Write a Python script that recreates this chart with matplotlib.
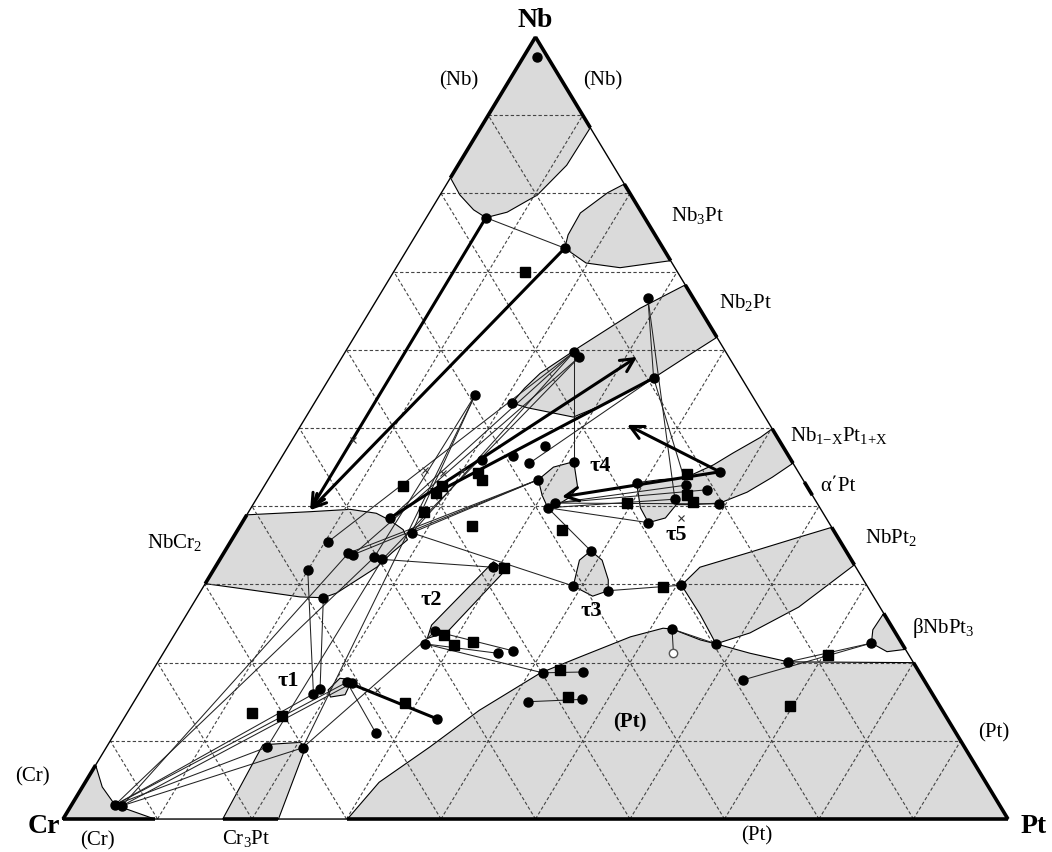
import numpy as np
import matplotlib.pyplot as plt

plt.rcParams['font.family'] = ['Liberation Serif', 'DejaVu Serif']
plt.rcParams['mathtext.fontset'] = 'custom'
plt.rcParams['mathtext.rm'] = 'Liberation Serif'
plt.rcParams['mathtext.it'] = 'Liberation Serif:italic'
plt.rcParams['mathtext.bf'] = 'Liberation Serif:bold'

H = np.sqrt(3) / 2

# all compositions are (at.% Nb, at.% Pt), Cr = balance

# single phase fields
nb_ss = [(100, 0), (82.0, 0), (79.8, 2.1), (77.9, 4.5), (76.9, 6.3), (77.6, 8.2),
         (79.8, 10.3), (83.6, 11.5), (88.4, 11.6)]
nb3pt = [(81.2, 18.8), (80.1, 17.6), (77.5, 16.0), (74.7, 16.1), (73.0, 16.6),
         (71.1, 19.8), (70.5, 23.7), (71.4, 28.6)]
nb2pt = [(68.3, 31.7), (65.3, 28.4), (60.4, 24.5), (57.0, 22.0), (55.1, 21.3),
         (53.2, 20.9), (52.6, 22.8), (51.4, 28.3), (53.2, 31.0), (56.4, 34.3),
         (59.1, 36.4), (61.6, 38.4)]
nb1xpt1x = [(49.9, 50.1), (48.8, 49.4), (46.8, 47.5), (45.3, 46.2), (43.6, 44.0),
            (43.4, 41.5), (43.0, 39.2), (39.8, 41.2), (37.9, 43.0), (38.5, 44.5),
            (40.2, 44.8), (40.2, 46.2), (40.4, 49.3), (41.8, 51.5), (43.7, 53.2),
            (45.5, 54.5)]
nbpt2 = [(37.3, 62.7), (36.1, 60.0), (34.1, 55.6), (32.2, 51.3), (29.9, 50.5),
         (26.1, 54.4), (22.4, 57.9), (23.8, 60.8), (27.1, 64.3), (32.5, 67.5)]
bnbpt3 = [(26.3, 73.7), (24.2, 73.6), (22.5, 74.3), (21.4, 76.5), (21.7, 78.3)]
pt_ss = [(0, 30.1), (4.7, 31.1), (9.2, 34.2), (13.9, 37.1), (18.7, 41.2), (20.7, 44.3),
         (23.3, 48.4), (24.4, 51.3), (24.3, 52.3), (22.9, 56.0), (22.4, 57.9),
         (21.2, 62.1), (20.1, 66.7), (20.0, 80.0), (0, 100)]
nbcr2 = [(38.9, 0), (39.3, 6.5), (39.6, 10.6), (39.1, 13.6), (38.2, 15.5), (37.0, 17.5),
         (35.7, 18.6), (34.1, 17.8), (32.2, 17.1), (30.8, 16.0), (28.9, 14.5),
         (28.3, 13.4), (28.4, 10.9), (29.3, 5.2), (30.1, 0)]
cr_ss = [(0, 0), (6.9, 0), (4.1, 2.1), (1.8, 4.6), (0, 9.7)]
cr3pt = [(0, 16.9), (9.5, 16.4), (9.8, 20.2), (9.1, 21.1), (0, 22.8)]
tau1 = [(16.5, 19.8), (18.0, 20.3), (17.8, 21.7), (15.9, 21.9), (15.6, 20.5)]
tau2 = [(23.1, 27.0), (24.8, 26.6), (32.9, 29.1), (31.8, 30.9), (23.9, 28.7)]
tau3 = [(29.8, 39.1), (33.1, 38.1), (34.3, 38.7), (33.1, 40.5), (30.6, 42.4),
        (29.2, 43.1), (28.5, 41.8)]
tau4 = [(43.4, 28.6), (45.0, 29.4), (45.7, 31.2), (42.5, 33.2), (41.2, 33.1),
        (40.0, 32.1), (39.8, 31.4), (41.4, 30.0)]

# solid-solution ranges marked on the binary edges
edge_cr_nb = [(0, 6.9), (30.1, 38.9), (82.0, 100)]           # Nb range, Pt = 0
edge_nb_pt = [(88.4, 100), (71.4, 81.2), (61.6, 68.3), (45.5, 49.9),
              (41.4, 43.1), (32.5, 37.3), (21.7, 26.3), (0, 20.0)]  # Nb range, Cr = 0
edge_cr_pt = [(0, 9.7), (16.9, 22.8), (30.1, 100)]           # Pt range, Nb = 0

# measured phase compositions
circles = [(97.4, 1.5), (76.9, 6.3), (73.0, 16.6), (66.6, 28.6), (59.7, 24.2), (59.1, 25.1),
           (56.4, 34.3), (54.2, 16.5), (53.2, 20.9), (47.7, 27.2), (46.4, 24.4), (45.5, 26.6),
           (45.9, 21.4), (45.7, 31.2), (43.4, 28.6), (40.4, 31.9), (39.8, 31.4), (43.0, 39.2),
           (40.9, 44.3), (42.7, 44.6), (42.1, 47.1), (44.4, 47.3), (40.3, 49.3), (37.9, 43.0),
           (34.3, 38.7), (29.8, 39.1), (29.2, 43.1), (29.9, 50.5), (32.2, 29.4), (38.5, 15.4),
           (36.6, 18.6), (33.5, 16.2), (33.2, 17.2), (35.4, 10.3), (34.0, 13.2), (33.8, 13.8),
           (31.8, 10.0), (28.3, 13.4), (16.0, 18.5), (16.6, 18.9), (17.5, 21.3), (17.4, 21.9),
           (12.8, 33.2), (11.0, 27.6), (9.2, 17.0), (9.1, 20.8), (1.8, 4.6), (1.7, 5.4),
           (22.4, 27.1), (24.0, 27.4), (21.2, 35.4), (21.5, 36.9), (18.7, 41.4), (18.8, 45.6),
           (15.0, 41.7), (15.3, 47.3), (24.3, 52.3), (22.4, 57.9), (20.1, 66.7), (17.8, 63.1),
           (22.5, 74.3)]
squares = [(69.9, 13.9), (42.6, 14.7), (42.6, 18.8), (41.7, 18.6), (44.2, 21.8), (43.4, 22.6),
           (39.3, 18.5), (37.5, 24.5), (37.0, 34.3), (40.4, 39.5), (44.1, 44.0), (41.4, 45.3),
           (40.5, 46.4), (32.1, 30.6), (29.7, 48.6), (13.6, 13.2), (13.2, 16.6), (14.8, 28.8),
           (23.5, 28.6), (22.3, 30.2), (22.6, 32.1), (19.1, 43.0), (15.6, 45.6), (21.0, 70.5),
           (14.5, 69.7)]
crosses = [(48.5, 6.4), (44.6, 16.0), (44.2, 18.1), (44.5, 20.0), (16.5, 25.0), (38.5, 46.1)]
open_circles = [(21.2, 54.0)]

tie_lines = [
    ((76.9, 6.3), (73.0, 16.6)), ((66.6, 28.6), (56.4, 34.3)), ((66.6, 28.6), (40.9, 44.3)),
    ((56.4, 34.3), (42.7, 44.6)), ((59.7, 24.2), (45.7, 31.2)), ((59.7, 24.2), (38.5, 15.4)),
    ((59.7, 24.2), (36.6, 18.6)), ((59.1, 25.1), (33.2, 17.2)), ((59.1, 25.1), (33.8, 13.8)),
    ((59.7, 24.2), (35.4, 10.3)), ((54.2, 16.5), (36.6, 18.6)), ((54.2, 16.5), (33.5, 16.2)),
    ((54.2, 16.5), (9.1, 20.8)), ((43.4, 28.6), (36.6, 18.6)), ((43.4, 28.6), (33.8, 13.8)),
    ((43.4, 28.6), (34.0, 13.2)), ((45.5, 26.6), (56.4, 34.3)),
    ((39.8, 31.4), (37.9, 43.0)), ((39.8, 31.4), (40.9, 44.3)), ((40.4, 31.9), (40.3, 49.3)),
    ((40.4, 31.9), (42.1, 47.1)), ((40.4, 31.9), (42.7, 44.6)), ((39.8, 31.4), (34.3, 38.7)),
    ((36.6, 18.6), (29.8, 39.1)), ((33.2, 17.2), (32.2, 29.4)), ((29.2, 43.1), (29.9, 50.5)),
    ((24.3, 52.3), (22.4, 57.9)), ((24.3, 52.3), (21.2, 54.0)), ((17.8, 63.1), (22.5, 74.3)),
    ((20.1, 66.7), (22.5, 74.3)), ((31.8, 10.0), (16.0, 18.5)), ((28.3, 13.4), (16.6, 18.9)),
    ((16.0, 18.5), (1.8, 4.6)), ((1.8, 4.6), (9.2, 17.0)), ((1.7, 5.4), (9.1, 20.8)),
    ((1.8, 4.6), (17.5, 21.3)), ((1.7, 5.4), (17.4, 21.9)), ((1.8, 4.6), (33.5, 16.2)),
    ((1.7, 5.4), (34.0, 13.2)), ((9.1, 20.8), (24.0, 27.4)), ((9.2, 17.0), (33.2, 17.2)),
    ((17.5, 21.3), (11.0, 27.6)), ((22.4, 27.1), (21.2, 35.4)), ((22.4, 27.1), (18.7, 41.4)),
    ((24.0, 27.4), (21.5, 36.9)), ((18.7, 41.4), (18.8, 45.6)), ((15.0, 41.7), (15.3, 47.3)),
]
thick_lines = [((41.7, 18.6), (56.4, 34.3)), ((17.5, 21.3), (12.8, 33.2))]
arrows = [((76.9, 6.3), (39.5, 6.4)), ((73.0, 16.6), (39.5, 6.4)), ((38.5, 15.4), (59.1, 31.2)),
          ((44.4, 47.3), (50.4, 34.5)), ((44.4, 47.3), (41.2, 32.2))]

labels = [("Nb", 0.4995, 0.8848, 20, 'bold'), ("Cr", -0.0201, -0.0078, 20, 'bold'),
          ("Pt", 1.0275, -0.0078, 20, 'bold'),
          ("(Nb)", 0.4190, 0.8173, 15, 'normal'), ("(Nb)", 0.5714, 0.8173, 15, 'normal'),
          (r"Nb$_3$Pt", 0.6709, 0.6689, 15, 'normal'), (r"Nb$_2$Pt", 0.7217, 0.5725, 15, 'normal'),
          (r"Nb$_{1\mathrm{-X}}$Pt$_{1\mathrm{+X}}$", 0.8212, 0.4252, 15, 'normal'),
          ("α΄Pt", 0.8201, 0.3677, 15, 'normal'), (r"NbPt$_2$", 0.8762, 0.3123, 15, 'normal'),
          (r"βNbPt$_3$", 0.9312, 0.2115, 15, 'normal'), ("(Pt)", 0.9852, 0.0952, 15, 'normal'),
          ("(Pt)", 0.7344, -0.0188, 15, 'normal'), ("(Pt)", 0.6000, 0.1074, 15, 'bold'),
          (r"NbCr$_2$", 0.1185, 0.3067, 15, 'normal'), ("(Cr)", -0.0328, 0.0465, 15, 'normal'),
          ("(Cr)", 0.0360, -0.0244, 15, 'normal'), (r"Cr$_3$Pt", 0.1937, -0.0210, 15, 'normal'),
          ("τ1", 0.2381, 0.1528, 16, 'bold'), ("τ2", 0.3894, 0.2425, 16, 'bold'),
          ("τ3", 0.5587, 0.2303, 16, 'bold'), ("τ4", 0.5683, 0.3909, 16, 'bold'),
          ("τ5", 0.6487, 0.3145, 16, 'bold')]


def xy(nb, pt):
    nb = np.asarray(nb, dtype=float)
    pt = np.asarray(pt, dtype=float)
    return (pt + nb / 2) / 100, nb / 100 * H


def pts(seq):
    a = np.array(seq, dtype=float)
    return xy(a[:, 0], a[:, 1])


def main():
    fig = plt.figure(figsize=(10.52, 8.52), dpi=100)
    ax = fig.add_axes([0, 0, 1, 1])
    ax.set_xlim(-0.0667, 1.0466)
    ax.set_ylim(-0.0365, 0.9070)
    ax.axis('off')

    for reg in [nb_ss, nb3pt, nb2pt, nb1xpt1x, nbpt2, bnbpt3, pt_ss, nbcr2, cr_ss,
                cr3pt, tau1, tau2, tau3, tau4]:
        x, y = pts(reg)
        ax.fill(x, y, facecolor='#dadada', edgecolor='black', lw=0.8, zorder=1)

    # 10 at.% grid
    for k in range(10, 100, 10):
        for a, b in [((k, 0), (k, 100 - k)), ((0, k), (100 - k, k)), ((0, 100 - k), (100 - k, 0))]:
            x, y = pts([a, b])
            ax.plot(x, y, color='#444444', lw=0.8, ls=(0, (3, 2)), zorder=2)

    x, y = pts([(0, 0), (0, 100), (100, 0), (0, 0)])
    ax.plot(x, y, color='black', lw=1.0, zorder=3)
    for lo, hi in edge_cr_nb:
        x, y = pts([(lo, 0), (hi, 0)])
        ax.plot(x, y, color='black', lw=2.6, zorder=3, solid_capstyle='butt')
    for lo, hi in edge_nb_pt:
        x, y = pts([(lo, 100 - lo), (hi, 100 - hi)])
        ax.plot(x, y, color='black', lw=2.6, zorder=3, solid_capstyle='butt')
    for lo, hi in edge_cr_pt:
        x, y = pts([(0, lo), (0, hi)])
        ax.plot(x, y, color='black', lw=2.6, zorder=3, solid_capstyle='butt')

    for a, b in tie_lines:
        x, y = pts([a, b])
        ax.plot(x, y, color='#222222', lw=0.75, zorder=3)
    for a, b in thick_lines:
        x, y = pts([a, b])
        ax.plot(x, y, color='black', lw=2.2, zorder=3)
    for a, b in arrows:
        ax.annotate('', xy=xy(*b), xytext=xy(*a), zorder=4,
                    arrowprops=dict(arrowstyle='->', lw=2.2, color='black',
                                    mutation_scale=24, shrinkA=0, shrinkB=0))

    x, y = pts(circles)
    ax.plot(x, y, 'o', color='black', ms=6.5, ls='none', zorder=5)
    x, y = pts(squares)
    ax.plot(x, y, 's', color='black', ms=6.5, ls='none', zorder=5)
    x, y = pts(crosses)
    ax.plot(x, y, 'x', color='#333333', ms=5, mew=0.8, ls='none', zorder=5)
    x, y = pts(open_circles)
    ax.plot(x, y, 'o', mfc='white', mec='#555555', ms=6, ls='none', zorder=5)

    for txt, tx, ty, size, weight in labels:
        ax.text(tx, ty, txt, fontsize=size, fontweight=weight, ha='center', va='center',
                color='black', zorder=6)

    fig.savefig('out.png', dpi=100)


if __name__ == "__main__":
    main()
